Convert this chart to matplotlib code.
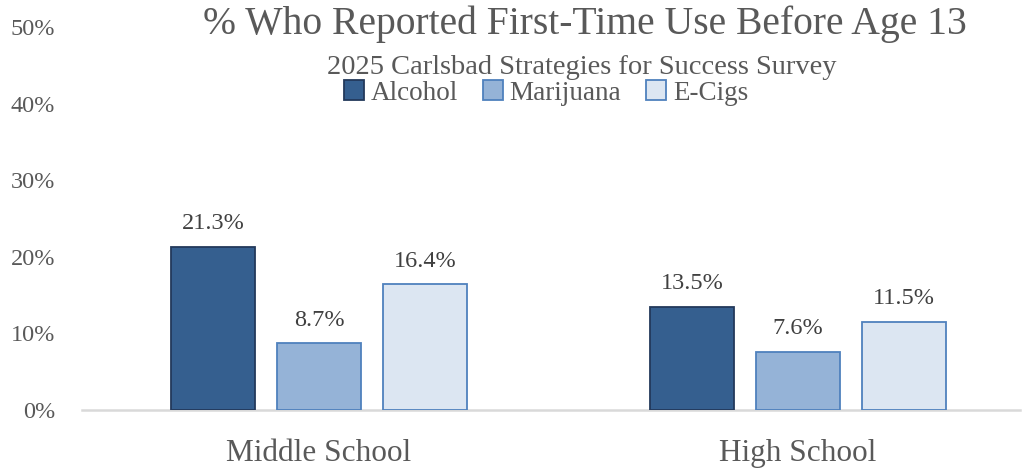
import matplotlib
matplotlib.use('Agg')
import matplotlib.pyplot as plt
import numpy as np
from matplotlib.patches import Patch

plt.rcParams['font.family'] = ['Liberation Serif', 'DejaVu Serif']

schools = ['Middle School', 'High School']
series = ['Alcohol', 'Marijuana', 'E-Cigs']
alcohol = [21.3, 13.5]
marijuana = [8.7, 7.6]
ecigs = [16.4, 11.5]
yticks = [0, 10, 20, 30, 40, 50]

faces = ['#355f8f', '#95b3d7', '#dce6f2']
edges = ['#23395b', '#4f81bd', '#4f81bd']
text_gray = '#595959'

fig = plt.figure(figsize=(10.29, 4.72), dpi=100)
ax = fig.add_axes([82 / 1029, 62 / 472, (1020 - 82) / 1029, 383 / 472])

x = np.arange(len(schools))
width = 0.1754
step = 0.2213
for i, (name, vals) in enumerate(zip(series, [alcohol, marijuana, ecigs])):
    pos = x + (i - 1) * step
    ax.bar(pos, vals, width, color=faces[i], edgecolor=edges[i], linewidth=1.3, zorder=3)
    for p, v in zip(pos, vals):
        ax.text(p, v + 2.3, '%.1f%%' % v, ha='center', va='baseline',
                fontsize=17.5, color='#404040')

ax.set_xlim((82 - 319) / 479, (1020 - 319) / 479)
ax.set_ylim(0, 50)
ax.set_yticks(yticks)
ax.set_yticklabels(['%d%%' % t for t in yticks], fontsize=17.5, color=text_gray)
ax.set_xticks(x)
ax.set_xticklabels(schools, fontsize=22.5, color=text_gray)
ax.tick_params(axis='both', length=0)
ax.tick_params(axis='x', pad=21)
ax.tick_params(axis='y', pad=19.5)
for s in ['top', 'right', 'left']:
    ax.spines[s].set_visible(False)
ax.spines['bottom'].set_color('#d9d9d9')
ax.spines['bottom'].set_linewidth(1.8)

fig.text(585 / 1029, 1 - 34 / 472, '% Who Reported First-Time Use Before Age 13',
         ha='center', va='baseline', fontsize=28.5, color=text_gray)
fig.text(582 / 1029, 1 - 74 / 472, '2025 Carlsbad Strategies for Success Survey',
         ha='center', va='baseline', fontsize=20.5, color=text_gray)

handles = [Patch(facecolor=faces[i], edgecolor=edges[i], linewidth=1.3) for i in range(3)]
fig.legend(handles, series, loc='center', bbox_to_anchor=(546 / 1029, 1 - 93 / 472),
           ncol=3, frameon=False, fontsize=19.5, handlelength=0.75, handleheight=0.75,
           handletextpad=0.25, columnspacing=0.9, labelcolor=text_gray,
           borderpad=0, borderaxespad=0)

fig.savefig('out.png', dpi=100)
